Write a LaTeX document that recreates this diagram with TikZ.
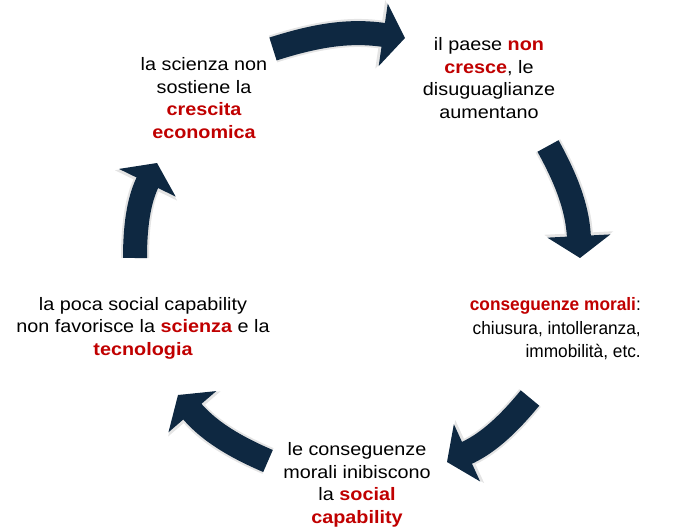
\documentclass[tikz,border=0pt]{standalone}
\usepackage{fontspec}
\setmainfont{Liberation Sans}[FakeStretch=1.1]
\newfontfamily\condfont{Liberation Sans}[FakeStretch=0.96]
\usepackage{tikz}
\usetikzlibrary{arrows.meta}

\definecolor{navy}{HTML}{0E2841}
\definecolor{glow}{HTML}{E4E4E4}
\definecolor{accent}{HTML}{C00000}
\newcommand{\hl}[1]{\textbf{\color{accent}#1}}

\tikzset{
  cycarrow/.style={draw=navy, line width=24pt, -{Triangle[length=22pt,width=62pt]},
    preaction={draw=glow, line width=28pt, -{Triangle[length=25pt,width=68pt]}}},
  txt/.style={align=center, font=\fontsize{18}{22.5}\selectfont, inner sep=0pt}
}

\begin{document}
\begin{tikzpicture}[x=1pt,y=1pt]
    \useasboundingbox (0,0) rectangle (676,531);
    % texts
    \node[txt] at (204,433) (scienza) {la scienza non\\sostiene la\\\hl{crescita}\\\hl{economica}};
    \node[txt] at (489,453) (paese) {il paese \hl{non}\\\hl{cresce}, le\\disuguaglianze\\aumentano};
    \node[txt, align=right, anchor=east, font=\condfont\fontsize{18}{23.5}\selectfont] at (641,202) (morali) {\hl{conseguenze morali}:\\chiusura, intolleranza,\\immobilità, etc.};
    \node[txt] at (357,46) (inibiscono) {le conseguenze\\morali inibiscono\\la \hl{social}\\\hl{capability}};
    \node[txt] at (143,203) (poca) {la poca social capability\\non favorisce la \hl{scienza} e la\\\hl{tecnologia}};
    % arrow ends
    \coordinate (t1) at (273,482); \coordinate (h1) at (405,493);
    \coordinate (t2) at (548,385); \coordinate (h2) at (580,273);
    \coordinate (t3) at (530,133); \coordinate (h3) at (447,69);
    \coordinate (t4) at (268,70);  \coordinate (h4) at (178,136);
    \coordinate (t5) at (135,273); \coordinate (h5) at (157,368);
    \draw[cycarrow] (t1) to[bend left=13] (h1);
    \draw[cycarrow] (t2) to[bend left=13] (h2);
    \draw[cycarrow] (t3) to[bend left=13] (h3);
    \draw[cycarrow] (t4) to[bend left=13] (h4);
    \draw[cycarrow] (t5) to[bend left=13] (h5);
\end{tikzpicture}
\end{document}
